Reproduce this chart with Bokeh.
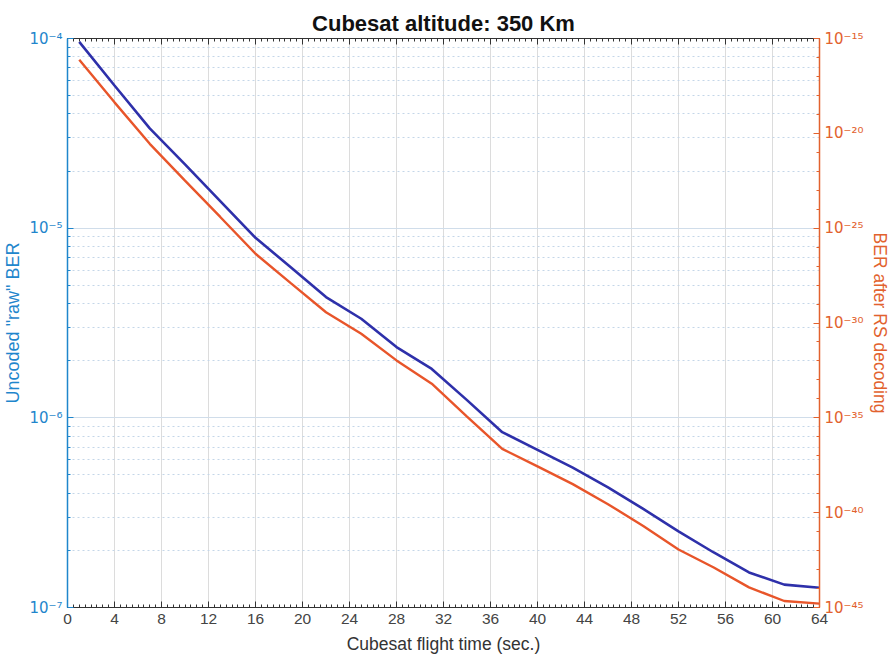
from bokeh.plotting import figure
from bokeh.models import (Range1d, LogAxis, LinearAxis, LogScale, FixedTicker,
                          SingleIntervalTicker, CustomJSTickFormatter)
from bokeh.embed import file_html
from bokeh.resources import INLINE

# ---- data ----
flight_time = [1, 4, 7, 10, 13, 16, 19, 22, 25, 28, 31, 34, 37, 40, 43, 46, 49, 52, 55, 58, 61, 64]
raw_ber = [9.6e-5, 5.65e-5, 3.36e-5, 2.17e-5, 1.39e-5, 8.9e-6, 6.22e-6, 4.33e-6, 3.33e-6, 2.36e-6,
           1.81e-6, 1.24e-6, 8.4e-7, 6.78e-7, 5.46e-7, 4.3e-7, 3.31e-7, 2.52e-7, 1.95e-7, 1.53e-7,
           1.32e-7, 1.27e-7]
rs_ber = [7.6e-17, 4.3e-19, 2.8e-21, 3.2e-23, 3.9e-25, 4.5e-27, 1.26e-28, 3.7e-30, 2.7e-31, 1.07e-32,
          6.3e-34, 1.17e-35, 2.3e-37, 2.75e-38, 3.2e-39, 2.8e-40, 2.0e-41, 1.15e-42, 1.29e-43, 1.15e-44,
          2.2e-45, 1.6e-45]

left_major = [1e-7, 1e-6, 1e-5, 1e-4]
left_minor = [m * d for d in [1e-7, 1e-6, 1e-5] for m in range(2, 10)]
right_major = [10.0 ** e for e in range(-45, -14, 5)]
right_minor = [10.0 ** e for e in range(-45, -14)]

AX_BLUE = "#1F86CC"
AX_ORANGE = "#E2622E"
LINE_BLUE = "#2E30AA"
LINE_ORANGE = "#E8552A"
FONT = "Liberation Sans"
TICK_FONT = "DejaVu Sans"

sup_fmt = CustomJSTickFormatter(code="""
const e = Math.round(Math.log10(tick));
const sup = {"-":"\\u207B","0":"\\u2070","1":"\\u00B9","2":"\\u00B2","3":"\\u00B3","4":"\\u2074",
             "5":"\\u2075","6":"\\u2076","7":"\\u2077","8":"\\u2078","9":"\\u2079"};
return "10" + String(e).split("").map(c => sup[c]).join("");
""")
blank_fmt = CustomJSTickFormatter(code="return '';")

p = figure(frame_width=752, frame_height=569,
           x_range=Range1d(0, 64), y_range=Range1d(1e-7, 1e-4),
           y_axis_type="log", output_backend="svg", toolbar_location=None,
           min_border_left=66, min_border_right=70, min_border_top=38, min_border_bottom=48,
           title="Cubesat altitude: 350 Km")
p.extra_y_ranges = {"rs": Range1d(1e-45, 1e-15)}
p.extra_y_scales = {"rs": LogScale()}

p.title.align = "center"
p.title.text_font = FONT
p.title.text_font_size = "22px"
p.title.text_font_style = "bold"
p.title.text_color = "#111111"
p.title.standoff = 5
p.outline_line_color = None
p.background_fill_color = "white"
p.border_fill_color = "white"

# x axis
xt = SingleIntervalTicker(interval=4, num_minor_ticks=8)
xa = p.xaxis[0]
xa.ticker = xt
xa.axis_label = "Cubesat flight time (sec.)"
xa.axis_label_text_font = FONT
xa.axis_label_text_font_size = "17.5px"
xa.axis_label_text_font_style = "normal"
xa.axis_label_text_color = "#333333"
xa.axis_label_standoff = 7
xa.major_label_text_font = FONT
xa.major_label_text_font_size = "15.5px"
xa.major_label_text_color = "#444444"
xa.major_label_standoff = 6
xa.axis_line_color = "#333333"
xa.major_tick_line_color = "#333333"
xa.minor_tick_line_color = "#333333"
xa.major_tick_in = 6
xa.major_tick_out = 0
xa.minor_tick_in = 3
xa.minor_tick_out = 0

top = LinearAxis(ticker=xt, formatter=blank_fmt, major_label_standoff=0,
                 major_label_text_font_size="1px",
                 axis_line_color="#333333", major_tick_line_color="#333333",
                 minor_tick_line_color="#333333", major_tick_in=6, major_tick_out=0,
                 minor_tick_in=3, minor_tick_out=0)
p.add_layout(top, "above")

# left axis
ya = p.yaxis[0]
ya.ticker = FixedTicker(ticks=left_major, minor_ticks=left_minor)
ya.formatter = sup_fmt
ya.axis_label = 'Uncoded "raw" BER'
ya.axis_label_text_font = FONT
ya.axis_label_text_font_size = "18px"
ya.axis_label_text_font_style = "normal"
ya.axis_label_text_color = AX_BLUE
ya.axis_label_standoff = 3
ya.major_label_text_font = TICK_FONT
ya.major_label_text_font_size = "15px"
ya.major_label_text_color = AX_BLUE
ya.major_label_standoff = 5
ya.axis_line_color = AX_BLUE
ya.axis_line_width = 1.5
ya.major_tick_line_color = AX_BLUE
ya.minor_tick_line_color = AX_BLUE
ya.major_tick_in = 6
ya.major_tick_out = 0
ya.minor_tick_in = 3
ya.minor_tick_out = 0

# right axis
ra = LogAxis(y_range_name="rs",
             ticker=FixedTicker(ticks=right_major, minor_ticks=right_minor),
             formatter=sup_fmt,
             axis_label="BER after RS decoding",
             axis_label_text_font=FONT, axis_label_text_font_size="17.5px",
             axis_label_text_font_style="normal", axis_label_text_color=AX_ORANGE,
             axis_label_standoff=3,
             major_label_text_font=TICK_FONT, major_label_text_font_size="15px",
             major_label_text_color=AX_ORANGE, major_label_standoff=5,
             axis_line_color=AX_ORANGE, axis_line_width=1.5,
             major_tick_line_color=AX_ORANGE, minor_tick_line_color=AX_ORANGE,
             major_tick_in=6, major_tick_out=0, minor_tick_in=3, minor_tick_out=0)
p.add_layout(ra, "right")

# grids
p.xgrid.grid_line_color = "#DCDCDC"
p.xgrid.grid_line_width = 1
p.ygrid.grid_line_color = "#D0DDEA"
p.ygrid.grid_line_width = 1
p.ygrid.minor_grid_line_color = "#C4D6E8"
p.ygrid.minor_grid_line_dash = "2 3"
p.ygrid.minor_grid_line_width = 1

# lines
p.line(flight_time, raw_ber, line_color=LINE_BLUE, line_width=2.6)
p.line(flight_time, rs_ber, line_color=LINE_ORANGE, line_width=2.4, y_range_name="rs")

open("out.html", "w").write(file_html(p, INLINE))
